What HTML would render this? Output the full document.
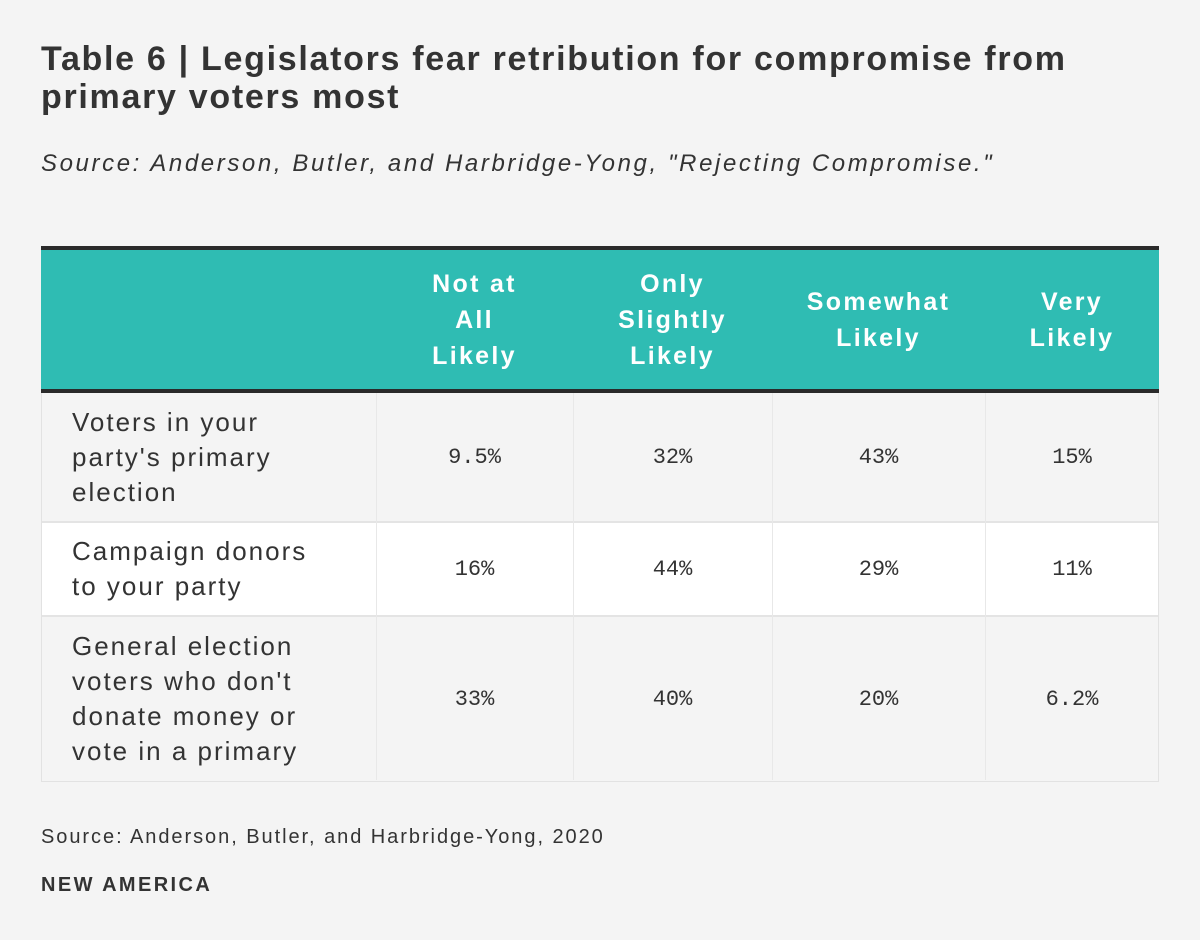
<!DOCTYPE html>
<html><head><meta charset="utf-8"><style>
body{margin:0;width:1200px;height:940px;background:#f4f4f4;font-family:"Liberation Sans",sans-serif;color:#333;position:relative;overflow:hidden}
.a{position:absolute}
h1{position:absolute;left:41px;top:40px;margin:0;font-size:34px;line-height:38px;font-weight:bold;color:#333;width:1100px;letter-spacing:1.7px}
.sub{left:41px;top:150px;font-size:24px;font-style:italic;color:#333;letter-spacing:2.6px;white-space:nowrap}
.tbl{left:41px;top:246px;width:1118px;height:536px;border-left:1px solid #e2e2e2;border-right:1px solid #e2e2e2;border-bottom:2px solid #e2e2e2;box-sizing:border-box}
.hdr{left:41px;top:246px;width:1118px;height:147px;background:#2fbcb3;border-top:4px solid #2a2a2a;border-bottom:4px solid #2a2a2a;box-sizing:border-box}
.hc{position:absolute;top:0;height:139px;display:flex;align-items:center;justify-content:center;text-align:center;color:#fff;font-weight:bold;font-size:25px;line-height:36px;letter-spacing:2.3px}
.row{position:absolute;left:42px;width:1116px;border-bottom:2px solid #e4e4e4;box-sizing:border-box}
.lab{position:absolute;left:30px;font-size:26px;line-height:35px;color:#333;display:flex;align-items:center;letter-spacing:2px;white-space:nowrap}
.val{position:absolute;font-family:"Liberation Mono",monospace;font-size:22px;display:flex;align-items:center;justify-content:center;color:#333}
.vl{position:absolute;top:393px;width:1px;height:387px;background:#e8e8e8}
</style></head><body>
<h1>Table 6 | Legislators fear retribution for compromise from primary voters most</h1>
<div class="a sub">Source: Anderson, Butler, and Harbridge-Yong, "Rejecting Compromise."</div>
<div class="a tbl"></div>
<div class="a hdr">
 <div class="hc" style="left:335px;width:197px">Not at<br>All<br>Likely</div>
 <div class="hc" style="left:532px;width:199px">Only<br>Slightly<br>Likely</div>
 <div class="hc" style="left:731px;width:213px">Somewhat<br>Likely</div>
 <div class="hc" style="left:944px;width:174px">Very<br>Likely</div>
</div>
<div class="row" style="top:393px;height:130px;background:#f4f4f4"></div>
<div class="row" style="top:523px;height:94px;background:#fff"></div>
<div class="row" style="top:617px;height:164px;background:#f4f4f4;border-bottom:none"></div>
<div class="vl" style="left:376px"></div><div class="vl" style="left:573px"></div><div class="vl" style="left:772px"></div><div class="vl" style="left:985px"></div>

<div class="lab" style="left:72px;top:393px;height:128px">Voters in your<br>party's primary<br>election</div>
<div class="lab" style="left:72px;top:523px;height:92px">Campaign donors<br>to your party</div>
<div class="lab" style="left:72px;top:617px;height:164px">General election<br>voters who don't<br>donate money or<br>vote in a primary</div>

<div class="val" style="left:376px;width:197px;top:393px;height:128px">9.5%</div>
<div class="val" style="left:573px;width:199px;top:393px;height:128px">32%</div>
<div class="val" style="left:772px;width:213px;top:393px;height:128px">43%</div>
<div class="val" style="left:985px;width:174px;top:393px;height:128px">15%</div>
<div class="val" style="left:376px;width:197px;top:523px;height:92px">16%</div>
<div class="val" style="left:573px;width:199px;top:523px;height:92px">44%</div>
<div class="val" style="left:772px;width:213px;top:523px;height:92px">29%</div>
<div class="val" style="left:985px;width:174px;top:523px;height:92px">11%</div>
<div class="val" style="left:376px;width:197px;top:617px;height:164px">33%</div>
<div class="val" style="left:573px;width:199px;top:617px;height:164px">40%</div>
<div class="val" style="left:772px;width:213px;top:617px;height:164px">20%</div>
<div class="val" style="left:985px;width:174px;top:617px;height:164px">6.2%</div>

<div class="a" style="left:41px;top:826px;font-size:20px;letter-spacing:1.95px;white-space:nowrap">Source: Anderson, Butler, and Harbridge-Yong, 2020</div>
<div class="a" style="left:41px;top:874px;font-size:20px;font-weight:bold;letter-spacing:2.4px">NEW AMERICA</div>
</body></html>
